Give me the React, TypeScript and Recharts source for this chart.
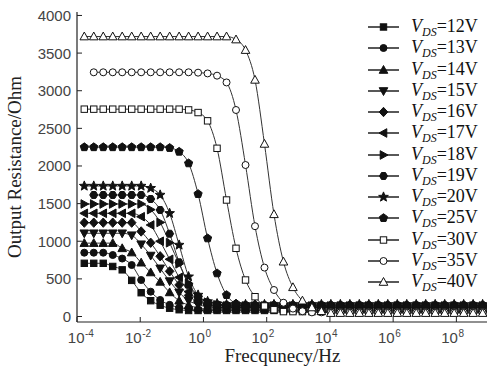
import React from 'react';
import { LineChart, Line, XAxis, YAxis, Legend } from 'recharts';

// Frequency sweep points (Hz)
const freq = [
  1.70e-4, 3.39e-4, 6.76e-4, 1.35e-3, 2.69e-3, 5.37e-3, 1.07e-2, 2.14e-2, 4.27e-2, 8.51e-2,
  0.170, 0.339, 0.676, 1.35, 2.69, 5.37, 10.7, 21.4, 42.7, 85.1,
  170, 339, 676, 1350, 2690, 5370, 1.07e4, 2.14e4, 4.27e4, 8.51e4,
  1.70e5, 3.39e5, 6.76e5, 1.35e6, 2.69e6, 5.37e6, 1.07e7, 2.14e7, 4.27e7, 8.51e7,
  1.70e8, 3.39e8, 6.76e8,
];

const r12 = [
  707, 707, 707, 665, 620, 480, 316, 210, 150, 110,
  90, 80, 80, 80, 80, 80, 80, 80, 80, 80,
  80, 80, 80, 80, 80, 80, 80, 80, 80, 80,
  80, 80, 80, 80, 80, 80, 80, 80, 80, 80,
  80, 80, 80,
];
const r13 = [
  848, 848, 848, 817, 770, 684, 485, 330, 220, 155,
  120, 100, 90, 90, 90, 90, 90, 90, 90, 90,
  90, 90, 90, 90, 90, 90, 90, 90, 90, 90,
  90, 90, 90, 90, 90, 90, 90, 90, 90, 90,
  90, 90, 90,
];
const r14 = [
  975, 975, 975, 975, 906, 850, 715, 585, 460, 320,
  210, 150, 115, 100, 100, 100, 100, 100, 100, 100,
  100, 100, 100, 100, 100, 100, 100, 100, 100, 100,
  100, 100, 100, 100, 100, 100, 100, 100, 100, 100,
  100, 100, 100,
];
const r15 = [
  1106, 1106, 1106, 1106, 1106, 1080, 960, 810, 640, 470,
  320, 210, 160, 125, 110, 110, 110, 110, 110, 110,
  110, 110, 110, 110, 110, 110, 110, 110, 110, 110,
  110, 110, 110, 110, 110, 110, 110, 110, 110, 110,
  110, 110, 110,
];
const r16 = [
  1247, 1247, 1247, 1247, 1247, 1247, 1130, 980, 800, 600,
  420, 280, 190, 150, 120, 120, 120, 120, 120, 120,
  120, 120, 120, 120, 120, 120, 120, 120, 120, 120,
  120, 120, 120, 120, 120, 120, 120, 120, 120, 120,
  120, 120, 120,
];
const r17 = [
  1371, 1371, 1371, 1371, 1371, 1371, 1326, 1216, 1000, 760,
  520, 330, 210, 160, 140, 130, 130, 130, 130, 130,
  130, 130, 130, 130, 130, 130, 130, 130, 130, 130,
  130, 130, 130, 130, 130, 130, 130, 130, 130, 130,
  130, 130, 130,
];
const r18 = [
  1495, 1495, 1495, 1495, 1495, 1495, 1495, 1420, 1250, 980,
  700, 440, 270, 190, 155, 140, 140, 140, 140, 140,
  140, 140, 140, 140, 140, 140, 140, 140, 140, 140,
  140, 140, 140, 140, 140, 140, 140, 140, 140, 140,
  140, 140, 140,
];
const r19 = [
  null, 1615, 1615, 1615, 1615, 1615, 1615, 1561, 1415, 1100,
  720, 420, 260, 185, 160, 150, 150, 150, 150, 150,
  150, 150, 150, 150, 150, 150, 150, 150, 150, 150,
  150, 150, 150, 150, 150, 150, 150, 150, 150, 150,
  150, 150, 150,
];
const r20 = [
  1734, 1734, 1734, 1734, 1734, 1734, 1734, 1705, 1615, 1371,
  950, 529, 286, 200, 170, 160, 160, 160, 160, 160,
  160, 160, 160, 160, 160, 160, 160, 160, 160, 160,
  160, 160, 160, 160, 160, 160, 160, 160, 160, 160,
  160, 160, 160,
];
const r25 = [
  2250, 2250, 2250, 2250, 2250, 2250, 2250, 2250, 2250, 2240,
  2190, 2036, 1628, 1039, 574, 286, 170, 130, 120, 120,
  120, 120, 120, 120, 120, 120, 120, 120, 120, 120,
  120, 120, 120, 120, 120, 120, 120, 120, 120, 120,
  120, 120, 120,
];
const r30 = [
  2755, 2755, 2755, 2755, 2755, 2755, 2755, 2755, 2755, 2755,
  2755, 2745, 2710, 2600, 2235, 1548, 906, 485, 263, 140,
  90, 65, 65, 65, 65, 65, 65, 65, 65, 65,
  65, 65, 65, 65, 65, 65, 65, 65, 65, 65,
  65, 65, 65,
];
const r35 = [
  null, 3245, 3245, 3245, 3245, 3245, 3245, 3245, 3245, 3245,
  3245, 3245, 3240, 3230, 3200, 3110, 2744, 2013, 1200, 650,
  352, 183, 105, 70, 55, 55, 55, 55, 55, 55,
  55, 55, 55, 55, 55, 55, 55, 55, 55, 55,
  55, 55, 55,
];
const r40 = [
  3720, 3720, 3720, 3720, 3720, 3720, 3720, 3720, 3720, 3720,
  3720, 3720, 3720, 3720, 3720, 3720, 3680, 3540, 3144, 2293,
  1358, 728, 388, 210, 120, 70, 45, 45, 45, 45,
  45, 45, 45, 45, 45, 45, 45, 45, 45, 45,
  45, 45, 45,
];

const xTicks = [1e-4, 1e-2, 1, 1e2, 1e4, 1e6, 1e8];
const yTicks = [0, 500, 1000, 1500, 2000, 2500, 3000, 3500, 4000];

type Shape = 'square' | 'circle' | 'up' | 'down' | 'diamond' | 'left' | 'right' | 'hexagon' | 'star' | 'pentagon';
interface Series { key: string; label: string; shape: Shape; filled: boolean; values: (number | null)[] }

const series: Series[] = [
  { key: 'v12', label: '12', shape: 'square', filled: true, values: r12 },
  { key: 'v13', label: '13', shape: 'circle', filled: true, values: r13 },
  { key: 'v14', label: '14', shape: 'up', filled: true, values: r14 },
  { key: 'v15', label: '15', shape: 'down', filled: true, values: r15 },
  { key: 'v16', label: '16', shape: 'diamond', filled: true, values: r16 },
  { key: 'v17', label: '17', shape: 'left', filled: true, values: r17 },
  { key: 'v18', label: '18', shape: 'right', filled: true, values: r18 },
  { key: 'v19', label: '19', shape: 'hexagon', filled: true, values: r19 },
  { key: 'v20', label: '20', shape: 'star', filled: true, values: r20 },
  { key: 'v25', label: '25', shape: 'pentagon', filled: true, values: r25 },
  { key: 'v30', label: '30', shape: 'square', filled: false, values: r30 },
  { key: 'v35', label: '35', shape: 'circle', filled: false, values: r35 },
  { key: 'v40', label: '40', shape: 'up', filled: false, values: r40 },
];

const data = freq.map((f, i) => {
  const row: Record<string, number | null> = { f };
  series.forEach((s) => { row[s.key] = s.values[i]; });
  return row;
});

const INK = '#111';
const SANS = '"Liberation Sans", Arial, sans-serif';
const SERIF = '"Liberation Serif", "Times New Roman", serif';

function regular(cx: number, cy: number, r: number, n: number, start: number) {
  const pts: string[] = [];
  for (let i = 0; i < n; i++) {
    const a = start + (i * 2 * Math.PI) / n;
    pts.push(`${cx + r * Math.cos(a)},${cy + r * Math.sin(a)}`);
  }
  return pts.join(' ');
}
function starPts(cx: number, cy: number, ro: number, ri: number) {
  const pts: string[] = [];
  for (let i = 0; i < 10; i++) {
    const a = -Math.PI / 2 + (i * Math.PI) / 5;
    const r = i % 2 === 0 ? ro : ri;
    pts.push(`${cx + r * Math.cos(a)},${cy + r * Math.sin(a)}`);
  }
  return pts.join(' ');
}

function MarkerShape({ shape, filled, cx, cy }: { shape: Shape; filled: boolean; cx: number; cy: number }) {
  const fill = filled ? INK : '#fff';
  const common = { fill, stroke: INK, strokeWidth: 1 };
  switch (shape) {
    case 'square':
      return <rect x={cx - 3.2} y={cy - 3.2} width={6.4} height={6.4} {...common} />;
    case 'circle':
      return <circle cx={cx} cy={cy} r={3.5} {...common} />;
    case 'up':
      return <polygon points={`${cx},${cy - 4.5} ${cx + 4.3},${cy + 3.3} ${cx - 4.3},${cy + 3.3}`} {...common} />;
    case 'down':
      return <polygon points={`${cx},${cy + 4.5} ${cx + 4.3},${cy - 3.3} ${cx - 4.3},${cy - 3.3}`} {...common} />;
    case 'diamond':
      return <polygon points={`${cx},${cy - 4.7} ${cx + 4.3},${cy} ${cx},${cy + 4.7} ${cx - 4.3},${cy}`} {...common} />;
    case 'left':
      return <polygon points={`${cx - 4.5},${cy} ${cx + 3.3},${cy - 4.3} ${cx + 3.3},${cy + 4.3}`} {...common} />;
    case 'right':
      return <polygon points={`${cx + 4.5},${cy} ${cx - 3.3},${cy - 4.3} ${cx - 3.3},${cy + 4.3}`} {...common} />;
    case 'hexagon':
      return <polygon points={regular(cx, cy, 4.0, 6, 0)} {...common} />;
    case 'star':
      return <polygon points={starPts(cx, cy, 5.1, 2.2)} {...common} />;
    case 'pentagon':
      return <polygon points={regular(cx, cy, 4.3, 5, -Math.PI / 2)} {...common} />;
    default:
      return null;
  }
}

function XTick(props: any) {
  const { x, y, payload } = props;
  const exp = Math.round(Math.log10(payload.value));
  const shift = exp === -4 ? 6 : 0;
  return (
    <g>
      <line x1={x} y1={y} x2={x} y2={y - 5} stroke="#222" strokeWidth={1} />
      <text x={x + 1.5 + shift} y={y + 21} textAnchor="end" fontFamily={SANS} fontSize={15} fill="#444">10</text>
      <text x={x + 2 + shift} y={y + 14.5} textAnchor="start" fontFamily={SANS} fontSize={10} fill="#444">{String(exp)}</text>
    </g>
  );
}

function YTick(props: any) {
  const { x, y, payload } = props;
  return (
    <g>
      <line x1={x} y1={y} x2={x + 5} y2={y} stroke="#222" strokeWidth={1} />
      <text x={x - 6} y={y + 5.5} textAnchor="end" fontFamily={SANS} fontSize={15} fill="#444">{payload.value}</text>
    </g>
  );
}

const renderLegend = (props: any) => {
  const payload: any[] = props.payload || [];
  return (
    <div style={{ fontFamily: SERIF, fontSize: 18, color: INK }}>
      {payload.map((entry: any) => {
        const s = series.find((x) => x.key === entry.dataKey);
        if (!s) return null;
        return (
          <div key={s.key} style={{ height: 21.25, display: 'flex', alignItems: 'center', whiteSpace: 'nowrap' }}>
            <svg width={32} height={14} style={{ overflow: 'visible', flex: 'none' }}>
              <line x1={0} y1={7} x2={31} y2={7} stroke={INK} strokeWidth={1.4} />
              <MarkerShape shape={s.shape} filled={s.filled} cx={15.5} cy={7} />
            </svg>
            <span style={{ marginLeft: 11, lineHeight: '18px' }}>
              <i>V</i>
              <span style={{ fontSize: 12, fontStyle: 'italic', position: 'relative', top: 4 }}>DS</span>
              ={s.label}V
            </span>
          </div>
        );
      })}
    </div>
  );
};

export default function App() {
  return (
    <div style={{ position: 'absolute', left: 0, top: 0, width: 487, height: 378, overflow: 'hidden', background: '#fff' }}>
      <LineChart width={490} height={378} data={data} margin={{ top: 12, right: 2, bottom: 0, left: 0 }}>
        <XAxis
          dataKey="f"
          type="number"
          scale="log"
          domain={[1e-4, 1e9]}
          allowDataOverflow
          ticks={xTicks}
          interval={0}
          height={56}
          tickSize={0}
          tickMargin={0}
          tickLine={false}
          tick={<XTick />}
          axisLine={{ stroke: '#222', strokeWidth: 1.2 }}
          label={{ value: 'Frecqunecy/Hz', position: 'insideBottom', offset: 16, style: { fontFamily: SERIF, fontSize: 19, fill: '#222' } }}
        />
        <XAxis
          xAxisId="top"
          orientation="top"
          dataKey="f"
          type="number"
          scale="log"
          domain={[1e-4, 1e9]}
          allowDataOverflow
          height={0}
          tick={false}
          tickLine={false}
          axisLine={{ stroke: '#222', strokeWidth: 1.2 }}
        />
        <YAxis
          type="number"
          domain={[-73, 4046]}
          allowDataOverflow
          ticks={yTicks}
          interval={0}
          width={77}
          tickSize={0}
          tickMargin={0}
          tickLine={false}
          tick={<YTick />}
          axisLine={{ stroke: '#222', strokeWidth: 1.2 }}
          label={{ value: 'Output Resistance/Ohm', angle: -90, position: 'insideLeft', offset: 14, style: { textAnchor: 'middle', fontFamily: SERIF, fontSize: 19, fill: '#222' } }}
        />
        <Legend
          layout="vertical"
          align="center"
          verticalAlign="middle"
          content={renderLegend}
          wrapperStyle={{ left: 368, top: 16.5, width: 119, height: 280 }}
        />
        {series.map((s) => (
          <Line
            key={s.key}
            dataKey={s.key}
            name={`VDS=${s.label}V`}
            type="monotone"
            stroke="#333"
            strokeWidth={1}
            isAnimationActive={false}
            activeDot={false}
            dot={(p: any) => {
              const k = `${s.key}-${p.index}`;
              if (p.cx == null || p.cy == null || p.value == null) return <g key={k} />;
              return <MarkerShape key={k} shape={s.shape} filled={s.filled} cx={p.cx} cy={p.cy} />;
            }}
          />
        ))}
      </LineChart>
    </div>
  );
}
